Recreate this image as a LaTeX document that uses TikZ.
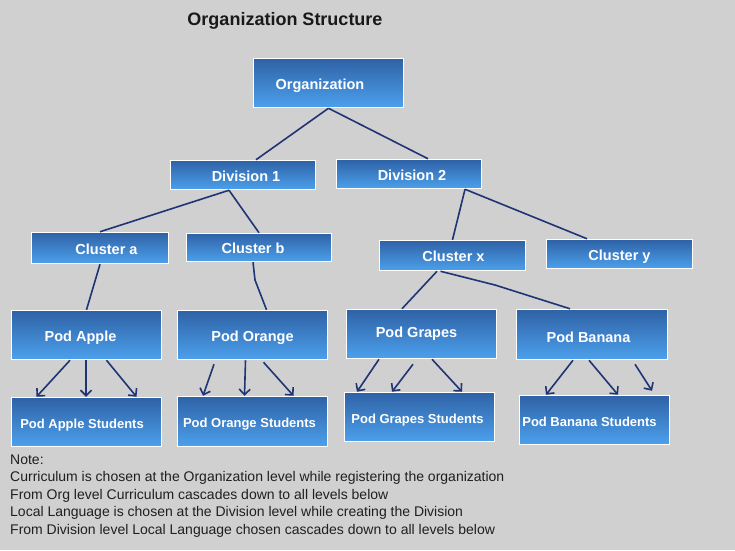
\documentclass[tikz,border=0pt]{standalone}
\usepackage{fontspec}
\setmainfont{Liberation Sans}
\usetikzlibrary{arrows.meta}
\definecolor{bg}{HTML}{D0D0D0}
\definecolor{boxtop}{HTML}{2F62A6}
\definecolor{boxbot}{HTML}{4CA0EC}
\definecolor{navy}{HTML}{1F3474}
\newcommand\tsh[2]{\makebox[0pt]{\kern#1pt\relax#2}}
\begin{document}
\begin{tikzpicture}[x=1pt,y=-1pt,
  box/.style n args={2}{draw=white, line width=1.5pt, top color=boxtop, bottom color=boxbot,
    inner sep=0pt, text=white, font=\fontsize{14.5}{16}\selectfont\bfseries,
    text height=12pt, text depth=0pt,
    minimum width=#1pt, minimum height=#2pt},
  sbox/.style n args={2}{box={#1}{#2}, font=\fontsize{13}{15}\selectfont\bfseries},
  conn/.style={draw=navy, line width=1.6pt, line join=round},
  arr/.style={conn, -{Straight Barb[length=5.5pt,width=11pt]}}]
\fill[bg] (0,0) rectangle (735,550);
\useasboundingbox (0,0) rectangle (735,550);

\node[font=\fontsize{18}{20}\selectfont\bfseries, text=black!90] (title) at (285,21) {Organization Structure};

\node[box={150}{49}] (org) at (328.5,83) {\tsh{-17}{Organization}};
\node[box={145}{29}] (d1) at (243,175) {\tsh{6}{Division 1}};
\node[box={145}{29}] (d2) at (409,174) {\tsh{6}{Division 2}};
\node[box={137}{31}] (ca) at (100,248) {\tsh{13}{Cluster a}};
\node[box={145}{28}] (cb) at (259,247.5) {\tsh{-12}{Cluster b}};
\node[box={146}{30}] (cx) at (452.5,255.5) {\tsh{2}{Cluster x}};
\node[box={146}{29}] (cy) at (619.5,254) {Cluster y};
\node[box={150}{49}] (pa) at (86.5,335) {\tsh{-12}{Pod Apple}};
\node[box={150}{49}] (po) at (252.5,335) {Pod Orange};
\node[box={150}{49}] (pg) at (421.5,334) {\tsh{-10}{\raisebox{3pt}{Pod Grapes}}};
\node[box={151}{50}] (pb) at (592,334.5) {\tsh{-7}{\raisebox{-1.5pt}{Pod Banana}}};
\node[sbox={150}{49}] (pas) at (86.5,422) {\tsh{-9}{Pod Apple Students}};
\node[sbox={150}{50}] (pos) at (252.5,421.5) {\tsh{-6}{Pod Orange Students}};
\node[sbox={150}{49}] (pgs) at (419.5,417) {\tsh{-4}{Pod Grapes Students}};
\node[sbox={150}{49}] (pbs) at (594.5,420) {\tsh{-10}{Pod Banana Students}};

% tree connectors
\draw[conn] (org.south) -- ([xshift=13pt]d1.north);
\draw[conn] (org.south) -- ([xshift=19pt]d2.north);
\draw[conn] ([xshift=-14pt]d1.south) -- (ca.north);
\draw[conn] ([xshift=-14pt]d1.south) -- (cb.north);
\draw[conn] ([xshift=56pt]d2.south) -- (cx.north);
\draw[conn] ([xshift=56pt]d2.south) -- ([xshift=-32.5pt]cy.north);
\draw[conn] (ca.south) -- (pa.north);
\draw[conn] ([xshift=-6pt]cb.south) -- (255,280) -- ([xshift=14pt]po.north);
\draw[conn] ([xshift=-15.5pt]cx.south) -- ([xshift=-19.5pt]pg.north);
\draw[conn] ([xshift=-12pt]cx.south) -- (495,285) -- ([xshift=-22pt]pb.north);

% arrows to students
\draw[arr] ([xshift=-16.5pt]pa.south) -- ([xshift=-50pt]pas.north);
\draw[arr] ([xshift=-0.5pt]pa.south) -- ([xshift=-0.5pt]pas.north);
\draw[arr] ([xshift=20pt]pa.south) -- ([xshift=50pt]pas.north);
\draw[arr] ([xshift=-38.5pt,yshift=-4pt]po.south) -- ([xshift=-49.5pt]pos.north);
\draw[arr] ([xshift=-7pt]po.south) -- ([xshift=-8pt]pos.north);
\draw[arr] ([xshift=11pt,yshift=-2pt]po.south) -- ([xshift=41pt]pos.north);
\draw[arr] ([xshift=-42.5pt]pg.south) -- ([xshift=-62.5pt]pgs.north);
\draw[arr] ([xshift=-8.5pt,yshift=-5pt]pg.south) -- ([xshift=-27.5pt]pgs.north);
\draw[arr] ([xshift=10.5pt]pg.south) -- ([xshift=42.5pt]pgs.north);
\draw[arr] ([xshift=-19pt]pb.south) -- ([xshift=-48.5pt]pbs.north);
\draw[arr] ([xshift=-3pt]pb.south) -- ([xshift=23.5pt]pbs.north);
\draw[arr] ([xshift=43pt,yshift=-4pt]pb.south) -- ([xshift=57.5pt,yshift=4pt]pbs.north);

\node[anchor=north west, inner sep=0pt, align=left, text=black!88,
  font=\fontsize{14}{17.45}\selectfont] (note) at (10,454.5)
  {Note:\\
   Curriculum is chosen at the Organization level while registering the organization\\
   From Org level Curriculum cascades down to all levels below\\
   Local Language is chosen at the Division level while creating the Division\\
   From Division level Local Language chosen cascades down to all levels below};
\end{tikzpicture}
\end{document}
